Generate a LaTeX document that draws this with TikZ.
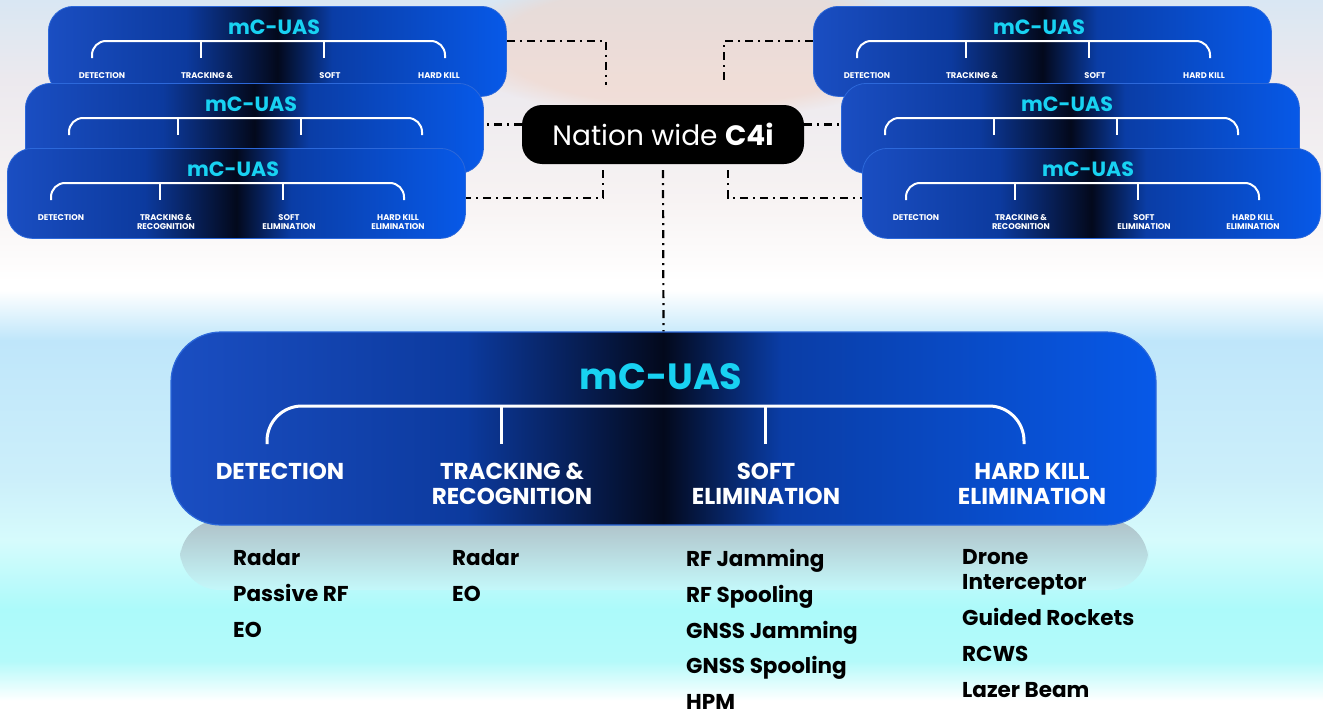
\documentclass[tikz,border=0pt]{standalone}
\usepackage{fontspec}
\setmainfont{Poppins}
\usetikzlibrary{positioning}
\usetikzlibrary{fadings}

\definecolor{uasL}{HTML}{1A4EC2}
\definecolor{uasA}{HTML}{0C3A9E}
\definecolor{uasD}{HTML}{03091C}
\definecolor{uasB}{HTML}{0A3DA6}
\definecolor{uasR}{HTML}{0759E8}
\definecolor{uasedge}{HTML}{2C68DA}
\definecolor{uascyan}{HTML}{18D2F2}
\definecolor{bgTop}{HTML}{D9E7F3}
\definecolor{bgHaze}{HTML}{ECE9EE}
\definecolor{bgLight}{HTML}{F7F3F3}
\definecolor{bgBlue}{HTML}{BFE6FA}
\definecolor{bgBlueB}{HTML}{CCEFFA}
\definecolor{bgCyanA}{HTML}{D6FBFC}
\definecolor{bgCyanB}{HTML}{ACFAFA}
\definecolor{bgCyanC}{HTML}{B4FAFA}
\definecolor{peach}{HTML}{F3D2C2}
\definecolor{mirrorTop}{HTML}{AFC1C8}
\definecolor{mirrorEnd}{HTML}{C4F8FA}

\pgfdeclarehorizontalshading{uasshade}{100bp}{color(0bp)=(uasL); color(25bp)=(uasL);
  color(40bp)=(uasA); color(50bp)=(uasD); color(56bp)=(uasB); color(75bp)=(uasR); color(100bp)=(uasR)}
\pgfdeclareverticalshading{skyshade}{100bp}{color(0bp)=(white); color(25.8bp)=(white);
  color(28.6bp)=(bgCyanC); color(32.2bp)=(bgCyanB); color(37.1bp)=(bgCyanA); color(41.3bp)=(bgBlueB);
  color(51.1bp)=(bgBlue); color(54.6bp)=(white); color(55.2bp)=(white); color(61bp)=(bgLight);
  color(69.4bp)=(bgHaze); color(75bp)=(bgTop); color(100bp)=(bgTop)}

\tikzset{
  smallbox/.style={rounded corners=25pt, minimum width=458pt, minimum height=90pt, inner sep=0pt,
    shading=uasshade, draw=uasedge, line width=0.8pt},
  bigbox/.style={rounded corners=50pt, minimum width=985pt, minimum height=193pt, inner sep=0pt,
    shading=uasshade, draw=uasedge, line width=1.2pt},
  smalltitle/.style={inner sep=0pt, text=uascyan, font=\fontsize{20.6}{22}\selectfont\bfseries},
  bigtitle/.style={inner sep=0pt, text=uascyan, font=\fontsize{36.5}{40}\selectfont\bfseries},
  smalllabel/.style={inner sep=0pt, anchor=north, align=center, text=white, font=\fontsize{8.3}{9}\selectfont\bfseries},
  biglabel/.style={inner sep=0pt, anchor=north, align=center, text=white, font=\fontsize{23}{25}\selectfont\bfseries},
  smallbracket/.style={white, line width=2pt, rounded corners=14pt},
  bigbracket/.style={white, line width=3pt, rounded corners=35pt},
  c4ibox/.style={rounded corners=20pt, minimum width=282pt, minimum height=59pt, inner sep=0pt,
    fill=black, text=white, font=\fontsize{28}{30}\selectfont},
  link/.style={line width=2.2pt, dash pattern=on 8pt off 5pt on 2pt off 5pt},
  itemlist/.style={inner sep=0pt, anchor=north west, align=left, font=\fontsize{21.5}{25}\selectfont\bfseries}
}

% one small mC-UAS panel: name, left, top, then the four labels
\newcommand{\uasbox}[7]{%
  \begin{scope}[shift={(#2,#3)}]
    \node[smallbox, anchor=north west] (#1) at (0,0) {};
    \node[smalltitle] (#1-t) at (226,21) {mC-UAS};
    \draw[smallbracket] (44,52) -- (44,35) -- (397,35) -- (397,52);
    \draw[smallbracket] (153,35) -- (153,52) (276,35) -- (276,52);
    \node[smalllabel] (#1-d) at (54,66.2) {#4};
    \node[smalllabel] (#1-r) at (159,66.2) {#5};
    \node[smalllabel] (#1-s) at (282,66.2) {#6};
    \node[smalllabel] (#1-h) at (391,66.2) {#7};
  \end{scope}}

\begin{document}
\begin{tikzpicture}[x=1pt, y=-1pt]
  \useasboundingbox (0,0) rectangle (1323,712);
  \shade[shading=skyshade] (0,0) rectangle (1323,712);
  \fill[peach, opacity=0.5, path fading=circle with fuzzy edge 20 percent] (690,45) ellipse (240 and 75);

  % regional panels
  \uasbox{A1}{48}{6}{DETECTION}{TRACKING \&}{SOFT}{HARD KILL}
  \uasbox{A2}{25}{83}{}{}{}{}
  \uasbox{A3}{7}{148}{DETECTION}{TRACKING \&\\RECOGNITION}{SOFT\\ELIMINATION}{HARD KILL\\ELIMINATION}
  \uasbox{B1}{813}{6}{DETECTION}{TRACKING \&}{SOFT}{HARD KILL}
  \uasbox{B2}{841}{83}{}{}{}{}
  \uasbox{B3}{862}{148}{DETECTION}{TRACKING \&\\RECOGNITION}{SOFT\\ELIMINATION}{HARD KILL\\ELIMINATION}

  \node[c4ibox] (c4i) at (663,134.5) {Nation wide \textbf{C4i}};

  % links to the C4i
  \draw[link] ([yshift=-35pt]A1.north east) -| ([xshift=-57pt,yshift=20pt]c4i.north);
  \draw[link] ([yshift=-35pt]B1.north west) -| ([xshift=61pt,yshift=20pt]c4i.north);
  \draw[link] ([yshift=10pt]c4i.west) -- ([yshift=10pt]c4i.west -| A2.east);
  \draw[link] ([yshift=10pt]c4i.east) -- ([yshift=10pt]c4i.east -| B2.west);
  \draw[link] ([xshift=-60pt,yshift=-6pt]c4i.south) |- ([yshift=-50pt]A3.north east);
  \draw[link] ([xshift=65pt,yshift=-6pt]c4i.south) |- ([yshift=-50pt]B3.north west);

  % main panel
  \shade[top color=mirrorTop, bottom color=mirrorEnd, rounded corners=40pt] (180,520) rectangle (1148,590);
  \node[bigbox] (main) at (663.5,428.5) {};
  \draw[link] ([yshift=-6pt]c4i.south) -- (main.north);
  \node[bigtitle] (main-t) at (661,377) {mC-UAS};
  \draw[bigbracket] (267,444) -- (267,406) -- (1024,406) -- (1024,444);
  \draw[bigbracket] (501,406) -- (501,444) (765,406) -- (765,444);
  \node[biglabel] (det) at (280,463) {DETECTION};
  \node[biglabel] (trk) at (512,463) {TRACKING \&\\RECOGNITION};
  \node[biglabel] (soft) at (766,463) {SOFT\\ELIMINATION};
  \node[biglabel] (hard) at (1032,463) {HARD KILL\\ELIMINATION};

  % means per function
  \node[itemlist] (det-list) at (233,549) {Radar\\[11pt]Passive RF\\[11pt]EO};
  \node[itemlist] (trk-list) at (452,549) {Radar\\[11pt]EO};
  \node[itemlist] (soft-list) at (686,549) {RF Jamming\\[10.8pt]RF Spooling\\[10.8pt]GNSS Jamming\\[10.8pt]GNSS Spooling\\[10.8pt]HPM};
  \node[itemlist] (hard-list) at (962,549) {Drone\\Interceptor\\[11pt]Guided Rockets\\[11pt]RCWS\\[11pt]Lazer Beam};
\end{tikzpicture}
\end{document}
